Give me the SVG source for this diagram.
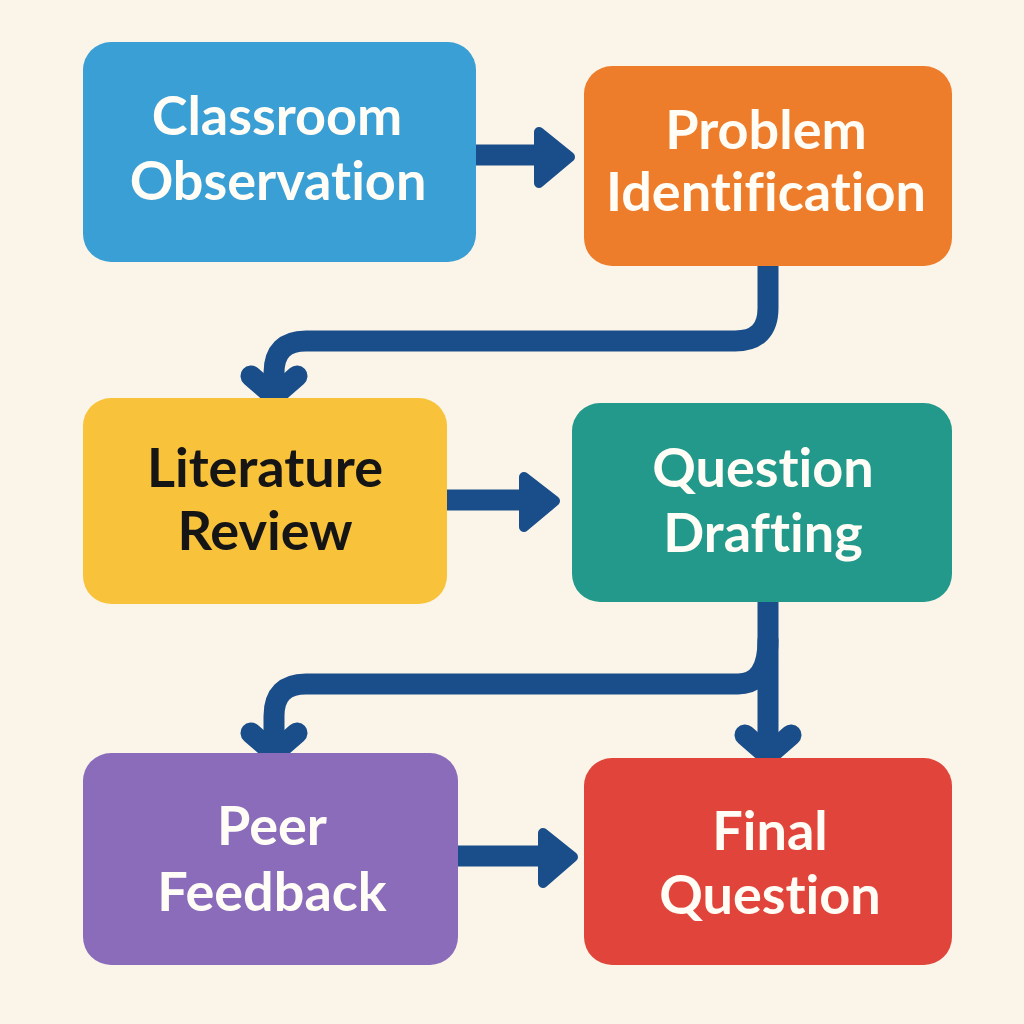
<svg xmlns="http://www.w3.org/2000/svg" width="1024" height="1024" viewBox="0 0 1024 1024">
  <defs>
    <style>
      .box { stroke: none; }
      .lbl { font-family: Lato, "Open Sans", "Liberation Sans", sans-serif; font-weight: 700; font-size: 54px; text-anchor: middle; fill: #FFFDF6; font-variant-ligatures: none; }
      .dark { fill: #151515; }
      .conn { fill: none; stroke: #1A4E8A; stroke-width: 21; stroke-linecap: round; stroke-linejoin: round; }
      .line { fill: none; stroke: #1A4E8A; stroke-width: 21; }
      .head { fill: #1A4E8A; stroke: #1A4E8A; stroke-width: 10; stroke-linejoin: round; }
    </style>
  </defs>
  <rect width="1024" height="1024" fill="#FBF5E9"/>

  <g id="connectors">
    <!-- Classroom -> Problem -->
    <line class="line" x1="476" y1="155" x2="540" y2="155"/>
    <path class="head" d="M539,132 L570,157 L539,183 Z"/>
    <!-- Problem -> Literature -->
    <path class="conn" d="M768,266 V308 Q768,341 735,341 H306 Q274,341 274,373 V394"/>
    <path class="conn" d="M251,376 L274,396 L297,376"/>
    <!-- Literature -> Question Drafting -->
    <line class="line" x1="447" y1="500" x2="524" y2="500"/>
    <path class="head" d="M524,477 L555,501 L524,527 Z"/>
    <!-- Question Drafting -> Final -->
    <path class="conn" d="M768,602 V752"/>
    <path class="conn" d="M745,735 L768,755 L791,735"/>
    <!-- Question Drafting -> Peer -->
    <path class="conn" d="M768,640 Q768,684 738,684 H306 Q274,684 274,716 V750"/>
    <path class="conn" d="M251,733 L274,753 L297,733"/>
    <!-- Peer -> Final -->
    <line class="line" x1="458" y1="856" x2="543" y2="856"/>
    <path class="head" d="M543,833 L573,857 L543,883 Z"/>
  </g>

  <g id="node-classroom">
    <rect class="box" x="83" y="42" width="393" height="220" rx="28" fill="#3A9FD5"/>
    <text class="lbl" x="277" y="135">Classroom</text>
    <text class="lbl" x="278" y="200">Observation</text>
  </g>
  <g id="node-problem">
    <rect class="box" x="584" y="66" width="368" height="200" rx="28" fill="#ED7D2B"/>
    <text class="lbl" x="766" y="149">Problem</text>
    <text class="lbl" x="766" y="211">Identification</text>
  </g>
  <g id="node-literature">
    <rect class="box" x="83" y="398" width="364" height="206" rx="28" fill="#F8C23A"/>
    <text class="lbl dark" x="265" y="487">Literature</text>
    <text class="lbl dark" x="265" y="550">Review</text>
  </g>
  <g id="node-drafting">
    <rect class="box" x="572" y="403" width="380" height="199" rx="28" fill="#22998A"/>
    <text class="lbl" x="763" y="487">Question</text>
    <text class="lbl" x="763" y="552">Drafting</text>
  </g>
  <g id="node-peer">
    <rect class="box" x="83" y="753" width="375" height="212" rx="28" fill="#8A6CBB"/>
    <text class="lbl" x="272" y="845">Peer</text>
    <text class="lbl" x="272" y="911">Feedback</text>
  </g>
  <g id="node-final">
    <rect class="box" x="584" y="758" width="368" height="207" rx="28" fill="#E0443B"/>
    <text class="lbl" x="770" y="850">Final</text>
    <text class="lbl" x="770" y="914">Question</text>
  </g>
</svg>
